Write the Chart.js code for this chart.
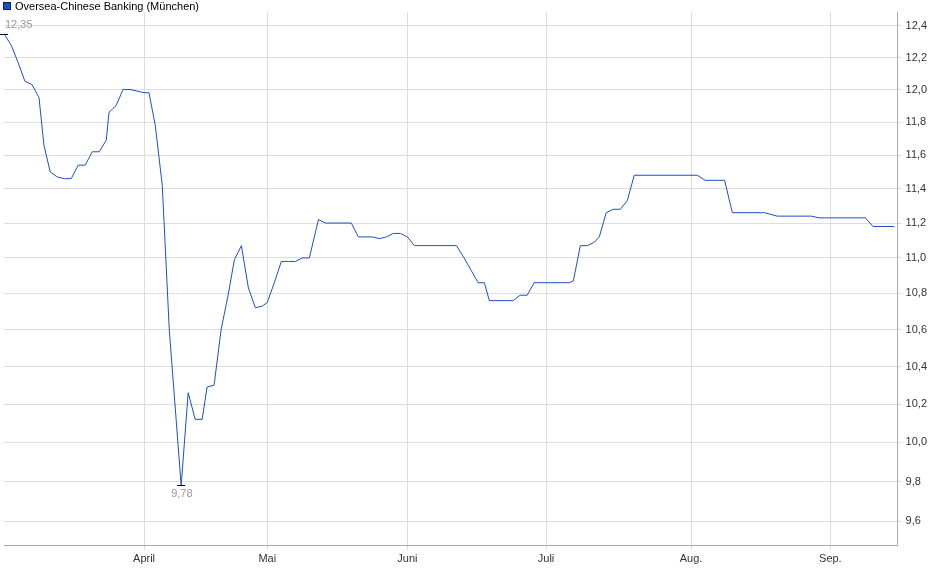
<!DOCTYPE html>
<html>
<head>
<meta charset="utf-8">
<script src="https://cdn.jsdelivr.net/npm/chart.js@4"></script>
<style>
  html, body { margin: 0; padding: 0; background: #fff; }
  #wrap { width: 940px; height: 579px; }
</style>
</head>
<body>
<div id="wrap"><canvas id="chart"></canvas></div>
<script>
// trading-day index and price (EUR)
const days = [0, 1, 2, 3, 4, 5, 5.7, 6.6, 7.6, 8.6, 9.6, 10.6, 11.6, 12.6, 13.6, 14.6, 15, 16, 17, 18, 19, 20, 20.7, 21.6,
  22.6, 23.6, 24.6, 25.3, 26.3, 27.3, 28.3, 29, 30, 31, 32, 32.9, 33.9, 34.9, 35.9, 36.9, 37.6, 38.6, 39.6, 40.6, 41.6,
  42.6, 43.6, 44.9, 45.9, 49.6, 50.6, 52.6, 53.6, 54.6, 55.6, 56.6, 57.6, 58.6, 64.6, 65.7, 66.7, 67.7, 68.6, 69.3,
  72.7, 73.7, 74.7, 75.7, 80.7, 81.3, 82.3, 83.3, 84.3, 85, 86, 87, 88, 89, 90, 99, 100.1, 102.9, 104, 108.6, 110.4,
  115.3, 116.4, 123, 124.1, 127.1];
const prices = [12.35, 12.28, 12.17, 12.05, 12.03, 11.95, 11.66, 11.50, 11.47, 11.46, 11.46, 11.54, 11.54, 11.62, 11.62,
  11.69, 11.86, 11.90, 12.00, 12.00, 11.99, 11.98, 11.98, 11.78, 11.42, 10.60, 10.11, 9.78, 10.26, 10.12, 10.12, 10.29,
  10.30, 10.60, 10.79, 10.99, 11.07, 10.83, 10.72, 10.73, 10.75, 10.86, 10.98, 10.98, 10.98, 11.00, 11.00, 11.22, 11.20,
  11.20, 11.12, 11.12, 11.11, 11.12, 11.14, 11.14, 11.12, 11.07, 11.07, 11.00, 10.93, 10.86, 10.86, 10.76, 10.76, 10.79,
  10.79, 10.86, 10.86, 10.87, 11.07, 11.07, 11.09, 11.12, 11.26, 11.28, 11.28, 11.33, 11.48, 11.48, 11.45, 11.45, 11.26,
  11.26, 11.24, 11.24, 11.23, 11.23, 11.18, 11.18];
const monthPos = [20, 37.6, 57.6, 77.4, 98.1, 118];
const monthLabels = ['April', 'Mai', 'Juni', 'Juli', 'Aug.', 'Sep.'];
const yTicks = [9.6, 9.8, 10.0, 10.2, 10.4, 10.6, 10.8, 11.0, 11.2, 11.4, 11.6, 11.8, 12.0, 12.2, 12.4];

const fmt = v => v.toFixed(2).replace('.', ',');

const extremes = {
  id: 'extremes',
  afterDatasetsDraw(chart) {
    const { ctx, scales: { x, y } } = chart;
    const hi = prices.indexOf(Math.max(...prices));
    const lo = prices.indexOf(Math.min(...prices));
    ctx.save();
    ctx.font = '11px Arial, "Liberation Sans"';
    ctx.fillStyle = '#999';
    ctx.strokeStyle = '#000';
    ctx.lineWidth = 1;
    [[hi, -1], [lo, 1]].forEach(([i, dir]) => {
      const px = x.getPixelForValue(days[i]);
      const py = y.getPixelForValue(prices[i]);
      ctx.beginPath();
      ctx.moveTo(px - 4, Math.round(py) + 0.5);
      ctx.lineTo(px + 4, Math.round(py) + 0.5);
      ctx.stroke();
      ctx.textAlign = 'left';
      ctx.textBaseline = dir < 0 ? 'bottom' : 'top';
      ctx.fillText(fmt(prices[i]), dir < 0 ? px + 1 : px - 10, py + dir * 3);
    });
    ctx.restore();
  }
};

new Chart(document.getElementById('chart').getContext('2d'), {
  type: 'line',
  data: {
    datasets: [{
      label: 'Oversea-Chinese Banking (München)',
      data: days.map((d, i) => ({ x: d, y: prices[i] })),
      borderColor: '#1f4fc4',
      backgroundColor: '#1f4fc4',
      borderWidth: 1,
      pointRadius: 0,
      tension: 0
    }]
  },
  options: {
    responsive: true,
    maintainAspectRatio: false,
    animation: false,
    layout: { padding: { left: 4, right: 9, top: 12, bottom: 10 } },
    plugins: {
      tooltip: { enabled: false },
      legend: { display: false }
    },
    scales: {
      x: {
        type: 'linear',
        min: 0,
        max: 127.6,
        afterBuildTicks: s => { s.ticks = monthPos.map(v => ({ value: v })); },
        ticks: {
          autoSkip: false,
          maxRotation: 0,
          color: '#333',
          font: { family: 'Arial, "Liberation Sans"', size: 11 },
          callback: (v, i) => monthLabels[i]
        },
        grid: { color: '#ddd', drawTicks: true, tickLength: 4 },
        border: { color: '#aaa' }
      },
      y: {
        type: 'logarithmic',
        position: 'right',
        min: 9.48,
        max: 12.49,
        afterBuildTicks: s => { s.ticks = yTicks.map(v => ({ value: v })); },
        ticks: {
          autoSkip: false,
          color: '#333',
          font: { family: 'Arial, "Liberation Sans"', size: 11 },
          padding: 4,
          callback: v => v.toFixed(1).replace('.', ',')
        },
        grid: { color: '#ddd', tickLength: 4 },
        border: { color: '#aaa' }
      }
    }
  },
  plugins: [extremes, {
    id: 'topLegend',
    afterDraw(chart) {
      const ctx = chart.ctx;
      ctx.save();
      ctx.fillStyle = '#1f4fc4';
      ctx.fillRect(3, 2, 8, 8);
      ctx.strokeStyle = '#0a1f55';
      ctx.strokeRect(3.5, 2.5, 7, 7);
      ctx.fillStyle = '#000';
      ctx.font = '11px Arial, "Liberation Sans"';
      ctx.textBaseline = 'middle';
      ctx.fillText('Oversea-Chinese Banking (München)', 15, 6.5);
      ctx.restore();
    }
  }]
});
</script>
</body>
</html>
